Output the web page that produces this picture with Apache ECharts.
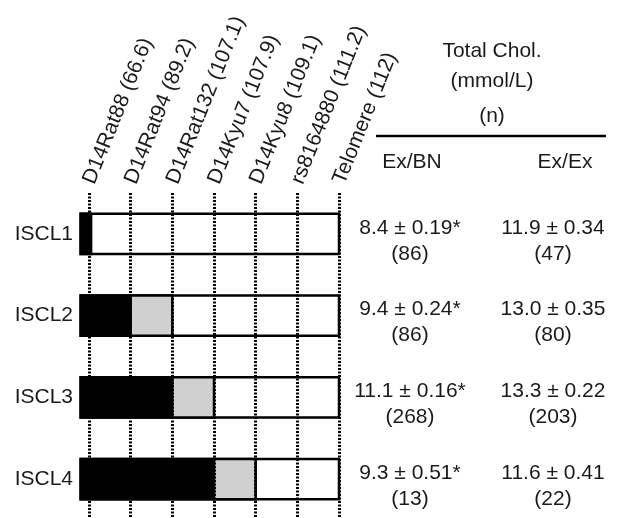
<!DOCTYPE html>
<html>
<head>
<meta charset="utf-8">
<script src="https://cdn.jsdelivr.net/npm/echarts@6/dist/echarts.min.js"></script>
<style>
  html, body { margin: 0; padding: 0; background: #fff; }
  #chart { width: 623px; height: 518px; }
</style>
</head>
<body>
<div id="chart"></div>
<script>
// congenic strains (rows)
const rows = ["ISCL1", "ISCL2", "ISCL3", "ISCL4"];
// markers along the chromosome, with their position in cM
const markerNames = ["D14Rat88", "D14Rat94", "D14Rat132", "D14Kyu7", "D14Kyu8", "rs8164880", "Telomere"];
const markerPos = ["66.6", "89.2", "107.1", "107.9", "109.1", "111.2", "112"];
// segments, in marker index units
const barStart = -0.2;
const barEnd = 6;
const donorEnd = [0.05, 1, 2, 3];   // black part
const grayEnd = [0.05, 2, 3, 4];    // grey (uncertain) part
// total cholesterol, mmol/L
const exBNMean = [8.4, 9.4, 11.1, 9.3];
const exBNSe = [0.19, 0.24, 0.16, 0.51];
const exBNN = [86, 86, 268, 13];
const exExMean = [11.9, 13.0, 13.3, 11.6];
const exExSe = [0.34, 0.35, 0.22, 0.41];
const exExN = [47, 80, 203, 22];

const FONT = '"Liberation Sans", Arial, sans-serif';
const TXT = "#1a1a1a";

const myChart = echarts.init(document.getElementById("chart"));

function seg(api, x1, x2, row, fill) {
  const a = api.coord([x1, row]);
  const b = api.coord([x2, row]);
  const h = api.size([0, 1])[1] * 0.49;
  return {
    type: "rect",
    shape: { x: a[0], y: a[1] - h / 2, width: b[0] - a[0], height: h },
    style: { fill: fill, stroke: "#000", lineWidth: 2.5 }
  };
}

myChart.setOption({
  animation: false,
  grid: { left: 89, right: 284, top: 193, bottom: -2, containLabel: false, outerBoundsMode: "none" },
  xAxis: {
    type: "value",
    position: "top",
    min: 0,
    max: 6,
    interval: 1,
    z: 3,
    axisLine: { show: false },
    axisTick: { show: false },
    axisLabel: {
      rotate: -68,
      margin: 10,
      color: TXT,
      fontSize: 21,
      fontFamily: FONT,
      showMinLabel: true,
      showMaxLabel: true,
      formatter: function (v) {
        return markerNames[v] + " (" + markerPos[v] + ")";
      }
    },
    splitLine: {
      show: true,
      lineStyle: { color: "#000", width: 3, type: [2, 1.5] }
    }
  },
  yAxis: {
    type: "category",
    data: rows,
    inverse: true,
    axisLine: { show: false },
    axisTick: { show: false },
    splitLine: { show: false },
    axisLabel: { margin: 16, color: TXT, fontSize: 21, fontFamily: FONT }
  },
  graphic: [
    { type: "text", x: 492, y: 51, style: { text: "Total Chol.", fill: TXT, font: "21px " + FONT, align: "center", verticalAlign: "middle" } },
    { type: "text", x: 492, y: 81, style: { text: "(mmol/L)", fill: TXT, font: "21px " + FONT, align: "center", verticalAlign: "middle" } },
    { type: "text", x: 492, y: 116, style: { text: "(n)", fill: TXT, font: "21px " + FONT, align: "center", verticalAlign: "middle" } },
    { type: "line", shape: { x1: 376, y1: 136, x2: 606, y2: 136 }, style: { stroke: "#000", lineWidth: 2.5 } },
    { type: "text", x: 412, y: 162, style: { text: "Ex/BN", fill: TXT, font: "21px " + FONT, align: "center", verticalAlign: "middle" } },
    { type: "text", x: 565, y: 162, style: { text: "Ex/Ex", fill: TXT, font: "21px " + FONT, align: "center", verticalAlign: "middle" } }
  ],
  series: [
    {
      type: "custom",
      clip: false,
      z: 2,
      encode: { x: [1, 2], y: 0 },
      data: rows.map((r, i) => [i, donorEnd[i], grayEnd[i]]),
      renderItem: function (params, api) {
        const row = api.value(0);
        const d = api.value(1);
        const g = api.value(2);
        const children = [seg(api, barStart, barEnd, row, "#fff")];
        children.push(seg(api, barStart, d, row, "#000"));
        if (g > d) children.push(seg(api, d, g, row, "#d0d0d0"));
        return { type: "group", children: children };
      }
    },
    {
      type: "custom",
      clip: false,
      z: 4,
      encode: { y: 0 },
      data: rows.map((r, i) => [i, exBNMean[i], exBNSe[i], exBNN[i], exExMean[i], exExSe[i], exExN[i]]),
      renderItem: function (params, api) {
        const row = api.value(0);
        const p = api.coord([6, row]);
        const c1 = p[0] + 71;
        const c2 = p[0] + 214;
        const font = "21px " + FONT;
        const t = (text, x, y) => ({
          type: "text",
          style: { text: text, x: x, y: y, fill: TXT, font: font, align: "center", verticalAlign: "middle" }
        });
        return {
          type: "group",
          children: [
            t(api.value(1).toFixed(1) + " \u00b1 " + api.value(2).toFixed(2) + "*", c1, p[1] - 6),
            t("(" + api.value(3) + ")", c1, p[1] + 20),
            t(api.value(4).toFixed(1) + " \u00b1 " + api.value(5).toFixed(2), c2, p[1] - 6),
            t("(" + api.value(6) + ")", c2, p[1] + 20)
          ]
        };
      }
    }
  ]
});

window.addEventListener("resize", function () {
  myChart.resize();
});
</script>
</body>
</html>
